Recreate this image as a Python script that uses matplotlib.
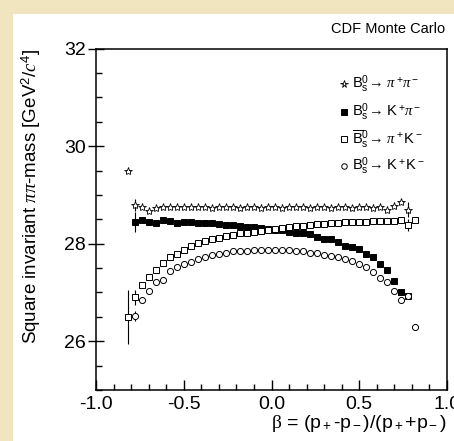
import numpy as np
import matplotlib
matplotlib.use("Agg")
import matplotlib.pyplot as plt
from matplotlib.patches import Rectangle
from matplotlib.ticker import MultipleLocator, FixedLocator

plt.rcParams['font.family'] = ['Liberation Sans', 'DejaVu Sans']
plt.rcParams['mathtext.fontset'] = 'custom'
plt.rcParams['mathtext.rm'] = 'Liberation Sans'
plt.rcParams['mathtext.it'] = 'Liberation Serif:italic'
plt.rcParams['mathtext.bf'] = 'Liberation Sans:bold'
plt.rcParams['mathtext.sf'] = 'Liberation Serif'

# beta bins, step 0.04 from -0.82 to 0.82
beta = np.round(np.arange(-0.82, 0.8201, 0.04), 2)

# Bs -> pi+ pi-  (stars), bins -0.82 .. 0.78
pipi_y = [29.50, 28.80, 28.76, 28.67, 28.73, 28.76, 28.75, 28.76, 28.75, 28.75,
          28.76, 28.75, 28.74, 28.75, 28.75, 28.75, 28.74, 28.75, 28.75, 28.74,
          28.75, 28.75, 28.74, 28.75, 28.75, 28.75, 28.74, 28.75, 28.75, 28.74,
          28.75, 28.75, 28.74, 28.75, 28.76, 28.74, 28.75, 28.70, 28.78, 28.86,
          28.70]
pipi_err = {1: 0.12, 40: 0.15}

# Bs -> K+ pi-  (filled squares), bins -0.78 .. 0.78
kpi_y = [28.45, 28.49, 28.45, 28.43, 28.49, 28.47, 28.43, 28.45, 28.45, 28.43,
         28.43, 28.42, 28.40, 28.39, 28.38, 28.36, 28.35, 28.34, 28.32, 28.31,
         28.29, 28.28, 28.25, 28.23, 28.21, 28.19, 28.14, 28.10, 28.09, 28.04,
         27.96, 27.94, 27.89, 27.79, 27.73, 27.58, 27.47, 27.24, 27.02, 26.93]
kpi_err = {0: 0.2}

# Bsbar -> pi+ K-  (open squares), bins -0.82 .. 0.82
pik_y = [26.50, 26.90, 27.16, 27.32, 27.46, 27.61, 27.72, 27.78, 27.88, 27.95,
         28.01, 28.05, 28.09, 28.12, 28.16, 28.18, 28.21, 28.23, 28.25, 28.27,
         28.29, 28.31, 28.33, 28.35, 28.36, 28.37, 28.38, 28.40, 28.41, 28.42,
         28.43, 28.44, 28.44, 28.45, 28.45, 28.46, 28.46, 28.46, 28.46, 28.48,
         28.38, 28.49]
pik_err = {0: 0.56, 1: 0.15, 40: 0.12}

# Bs -> K+ K-  (open circles), bins -0.78 .. 0.82
kk_y = [26.52, 26.85, 27.04, 27.21, 27.26, 27.44, 27.52, 27.58, 27.63, 27.68,
        27.72, 27.76, 27.79, 27.82, 27.85, 27.86, 27.86, 27.87, 27.87, 27.87,
        27.88, 27.88, 27.87, 27.86, 27.86, 27.82, 27.80, 27.77, 27.75, 27.72,
        27.68, 27.65, 27.58, 27.52, 27.43, 27.30, 27.21, 27.04, 26.85, 26.93,
        26.29]
kk_err = {0: 0.1}

legend_labels = [r"$\mathrm{B}_\mathrm{s}^0\!\rightarrow\,\pi^+\!\pi^-$",
                 r"$\mathrm{B}_\mathrm{s}^0\!\rightarrow\,\mathrm{K}^+\!\pi^-$",
                 r"$\overline{\mathrm{B}}_\mathrm{s}^0\!\rightarrow\,\pi^+\mathrm{K}^-$",
                 r"$\mathrm{B}_\mathrm{s}^0\!\rightarrow\,\mathrm{K}^+\mathrm{K}^-$"]


def errs(n, d):
    e = np.zeros(n)
    for i, v in d.items():
        e[i] = v
    return e


fig = plt.figure(figsize=(4.54, 4.41), dpi=100)
fig.patch.set_facecolor('#f1e5bf')
fig.add_artist(Rectangle((12.5 / 454, 0), 1, (441 - 13.5) / 441, transform=fig.transFigure,
                         facecolor='white', edgecolor='none', zorder=0))

ax = fig.add_axes([96 / 454, 51 / 441, 351 / 454, 341.3 / 441])
ax.set_facecolor('white')

styles = [dict(marker='*', ms=6, mfc='white', mec='black', mew=0.6),
          dict(marker='s', ms=4.6, mfc='black', mec='black', mew=0.7),
          dict(marker='s', ms=4.8, mfc='white', mec='black', mew=0.7),
          dict(marker='o', ms=4.4, mfc='white', mec='black', mew=0.7)]

series = [(beta[0:41], pipi_y, pipi_err),
          (beta[1:41], kpi_y, kpi_err),
          (beta[0:42], pik_y, pik_err),
          (beta[1:42], kk_y, kk_err)]

for (x, y, e), st in zip(series, styles):
    ax.errorbar(x, y, yerr=errs(len(y), e), ls='none', ecolor='black', elinewidth=0.8,
                capsize=0, **st)

ax.set_xlim(-1.0, 1.0)
ax.set_ylim(25, 32)
ax.xaxis.set_major_locator(MultipleLocator(0.5))
ax.xaxis.set_minor_locator(MultipleLocator(0.1))
ax.yaxis.set_major_locator(FixedLocator([26, 28, 30, 32]))
ax.yaxis.set_minor_locator(MultipleLocator(0.5))
ax.xaxis.set_major_formatter(matplotlib.ticker.FuncFormatter(lambda v, p: "%.1f" % v))
ax.tick_params(axis='x', which='major', direction='in', length=7, width=1, labelsize=14, pad=4)
ax.tick_params(axis='x', which='minor', direction='in', length=4, width=1)
ax.tick_params(axis='y', which='major', direction='inout', length=11, width=1, labelsize=14, pad=2)
ax.tick_params(axis='y', which='minor', direction='in', length=4, width=1)
for s in ax.spines.values():
    s.set_linewidth(1.1)

ax.set_ylabel(r"Square invariant $\pi\pi$-mass [GeV$^2$/$c^4$]", fontsize=13.5, loc='top')
ax.yaxis.set_label_coords(-0.15, 1.0)
ax.text(1.0, -0.068, r"$\mathsf{\beta}$ = ($\mathrm{p}_+$-$\mathrm{p}_-$)/($\mathrm{p}_+$+$\mathrm{p}_-$)",
        transform=ax.transAxes, ha='right', va='top', fontsize=14)

fig.text(445 / 454, 1 - 29 / 441, "CDF Monte Carlo", ha='right', va='center', fontsize=10.5)

# legend drawn by hand
leg_y = [0.8966, 0.8145, 0.7354, 0.6563]
for yy, lab, st in zip(leg_y, legend_labels, styles):
    ax.plot([0.7066], [yy], transform=ax.transAxes, ls='none',
            **dict(st, ms=st['ms'] * 0.9))
    ax.text(0.729, yy, lab, transform=ax.transAxes, ha='left', va='center', fontsize=10.5)

fig.savefig("out.png", dpi=100, facecolor=fig.get_facecolor())
